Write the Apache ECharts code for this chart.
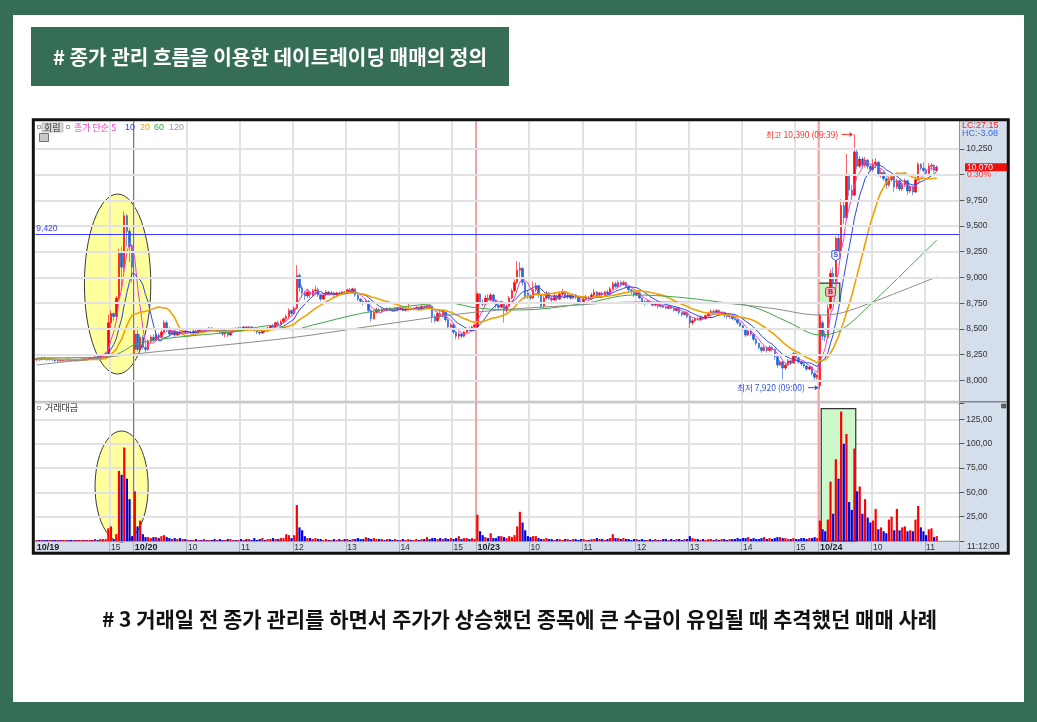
<!DOCTYPE html>
<html><head><meta charset="utf-8">
<script src="https://cdn.jsdelivr.net/npm/echarts@6.0.0/dist/echarts.min.js"></script>
<style>html,body{margin:0;padding:0;overflow:hidden;background:#366e55}#c{width:1037px;height:722px}</style>
</head><body><div id="c"></div>
<script>
// ---------- DATA (3-minute candles: [open, close, low, high]) ----------
const candles = [
// 10/19 13:36 - 15:30
[8200,8210,8190,8220],[8210,8200,8190,8220],[8200,8220,8200,8230],[8220,8210,8200,8230],[8210,8200,8190,8210],
[8200,8210,8190,8220],[8210,8200,8190,8210],[8200,8190,8180,8210],[8190,8200,8180,8210],[8200,8190,8180,8200],
[8190,8200,8180,8210],[8200,8210,8190,8210],[8210,8200,8190,8210],[8200,8190,8190,8210],[8190,8200,8190,8210],
[8200,8190,8180,8210],[8190,8200,8190,8210],[8200,8210,8200,8220],[8210,8200,8200,8220],[8200,8210,8200,8220],
[8210,8220,8210,8230],[8220,8210,8200,8230],[8210,8230,8210,8240],[8230,8220,8210,8240],[8220,8240,8220,8250],
[8240,8250,8230,8260],[8250,8260,8240,8280],[8260,8560,8250,8640],[8560,8650,8500,8680],[8650,8620,8580,8660],
[8620,8800,8600,8820],[8800,9250,8780,9280],[9250,9100,8880,9300],[9100,9600,9050,9640],[9600,9450,9300,9620],
[9450,9300,9150,9480],[9300,9100,8950,9320],
// 10/20
[8300,8450,8250,8500],[8450,8300,8280,8520],[8300,8420,8280,8450],[8420,8320,8300,8440],[8320,8300,8270,8350],
[8300,8380,8290,8400],[8380,8420,8360,8440],[8420,8390,8370,8450],[8390,8440,8380,8460],[8440,8420,8400,8460],
[8420,8470,8410,8490],[8470,8560,8460,8590],[8560,8500,8480,8580],[8500,8450,8430,8520],[8450,8480,8440,8500],
[8480,8440,8420,8490],[8440,8470,8430,8480],[8470,8450,8440,8490],[8450,8480,8440,8490],[8480,8460,8450,8490],
[8460,8470,8450,8480],[8470,8460,8450,8480],[8460,8480,8450,8490],[8480,8470,8460,8500],[8470,8490,8460,8500],
[8490,8480,8470,8500],[8480,8500,8470,8510],[8500,8490,8480,8510],[8490,8510,8480,8520],[8510,8490,8480,8520],
[8490,8480,8470,8500],[8480,8500,8470,8510],[8500,8470,8450,8500],[8470,8450,8430,8480],[8450,8470,8420,8480],
[8470,8440,8420,8480],[8440,8480,8430,8490],[8480,8500,8470,8510],[8500,8490,8480,8520],[8490,8510,8480,8520],
[8510,8500,8490,8520],[8500,8520,8490,8530],[8520,8510,8500,8530],[8510,8520,8500,8530],[8520,8500,8490,8530],
[8500,8490,8470,8510],[8490,8470,8450,8500],[8470,8460,8440,8480],[8460,8490,8450,8500],[8490,8480,8460,8500],
[8480,8510,8470,8520],[8510,8530,8500,8540],[8530,8520,8510,8550],[8520,8560,8510,8570],[8560,8540,8530,8580],
[8540,8570,8530,8590],[8570,8600,8550,8610],[8600,8620,8570,8640],[8620,8680,8600,8700],[8680,8650,8630,8690],
[8650,8700,8640,8720],[8700,9020,8690,9120],[9020,8900,8860,9040],[8900,8850,8800,8930],[8850,8820,8780,8870],
[8820,8860,8800,8880],[8860,8830,8800,8870],[8830,8870,8810,8890],[8870,8880,8840,8920],[8880,8830,8810,8900],
[8830,8790,8770,8840],[8790,8830,8780,8850],[8830,8860,8820,8880],[8860,8840,8830,8870],[8840,8850,8830,8870],
[8850,8830,8810,8860],[8830,8850,8820,8860],[8850,8840,8830,8860],[8840,8860,8830,8870],[8860,8850,8840,8870],
[8850,8880,8840,8890],[8880,8860,8850,8900],[8860,8890,8850,8900],[8890,8830,8810,8890],[8830,8790,8770,8840],
[8790,8770,8750,8800],[8770,8750,8730,8780],[8750,8770,8740,8790],[8770,8680,8660,8780],[8680,8600,8570,8690],
[8600,8660,8590,8680],[8660,8690,8650,8710],[8690,8670,8660,8700],[8670,8690,8660,8700],[8690,8680,8670,8700],
[8680,8700,8670,8710],[8700,8690,8680,8710],[8690,8680,8670,8700],[8680,8700,8670,8710],[8700,8690,8670,8710],
[8690,8700,8680,8710],[8700,8680,8670,8710],[8680,8690,8670,8700],[8690,8700,8680,8760],[8700,8690,8680,8710],
[8690,8700,8680,8710],[8700,8710,8690,8720],[8710,8700,8690,8720],[8700,8720,8690,8730],[8720,8710,8700,8730],
[8710,8730,8700,8740],[8730,8720,8700,8740],[8720,8620,8560,8730],[8620,8580,8560,8640],[8580,8650,8570,8670],
[8650,8620,8600,8680],[8620,8660,8610,8680],[8660,8590,8570,8670],[8590,8520,8500,8600],[8520,8540,8500,8560],
[8540,8470,8450,8550],[8470,8430,8400,8480],[8430,8450,8400,8470],[8450,8430,8410,8460],[8430,8470,8420,8480],
[8470,8500,8460,8510],[8500,8490,8480,8520],[8490,8520,8480,8530],[8520,8540,8510,8550],
// 10/23
[8520,8840,8510,8860],[8840,8760,8730,8850],[8760,8740,8720,8790],[8740,8800,8730,8830],[8800,8780,8760,8840],
[8780,8830,8770,8850],[8830,8770,8750,8840],[8770,8730,8700,8780],[8730,8710,8680,8750],[8710,8740,8700,8760],
[8740,8680,8560,8750],[8680,8720,8660,8740],[8720,8800,8710,8820],[8800,8870,8790,8890],[8870,8950,8860,8980],
[8950,9070,8940,9160],[9070,9090,8990,9150],[9090,8950,8920,9100],[8950,8800,8790,8960],[8850,8820,8790,8880],
[8820,8800,8780,8840],[8800,8880,8790,8960],[8880,8920,8860,8950],[8920,8830,8800,8930],[8830,8720,8700,8840],
[8720,8800,8700,8820],[8800,8850,8790,8870],[8850,8800,8780,8860],[8800,8780,8760,8820],[8780,8820,8770,8840],
[8820,8790,8770,8830],[8790,8840,8780,8860],[8840,8860,8820,8890],[8860,8810,8790,8870],[8810,8830,8790,8850],
[8830,8800,8780,8840],[8800,8830,8790,8850],[8830,8810,8790,8840],[8810,8760,8740,8820],[8760,8740,8730,8780],
[8740,8790,8730,8800],[8790,8810,8780,8830],[8810,8790,8780,8820],[8790,8830,8780,8850],[8830,8860,8820,8890],
[8860,8830,8810,8870],[8830,8850,8820,8860],[8850,8830,8810,8860],[8830,8860,8820,8870],[8860,8840,8830,8880],
[8840,8890,8830,8910],[8890,8940,8880,8960],[8940,8910,8900,8960],[8910,8950,8900,8970],[8950,8930,8910,8970],
[8930,8950,8920,8970],[8950,8910,8900,8960],[8910,8880,8860,8920],[8880,8860,8840,8890],[8860,8830,8810,8870],
[8830,8850,8820,8860],[8850,8800,8790,8860],[8800,8760,8740,8810],[8760,8750,8730,8780],[8750,8770,8740,8780],
[8770,8750,8740,8780],[8750,8730,8720,8760],[8730,8740,8720,8750],[8740,8720,8700,8750],[8720,8730,8710,8740],
[8730,8710,8700,8740],[8710,8700,8690,8720],[8700,8720,8690,8730],[8720,8700,8690,8730],[8700,8680,8670,8710],
[8680,8700,8670,8710],[8700,8660,8640,8710],[8660,8640,8620,8670],[8640,8660,8630,8670],[8660,8620,8600,8670],
[8620,8560,8490,8630],[8560,8580,8540,8600],[8580,8600,8570,8610],[8600,8590,8580,8620],[8590,8610,8580,8630],
[8610,8600,8590,8620],[8600,8630,8590,8640],[8630,8650,8620,8670],[8650,8670,8640,8690],[8670,8660,8640,8690],
[8660,8680,8650,8690],[8680,8650,8640,8690],[8650,8660,8640,8670],[8660,8630,8610,8670],[8630,8620,8600,8640],
[8620,8630,8600,8640],[8630,8600,8590,8640],[8600,8590,8580,8610],[8590,8560,8540,8600],[8560,8530,8520,8570],
[8530,8500,8480,8540],[8500,8440,8420,8510],[8440,8480,8430,8500],[8480,8450,8430,8490],[8450,8400,8380,8460],
[8400,8360,8340,8410],[8360,8320,8300,8370],[8320,8290,8270,8330],[8290,8320,8280,8340],[8320,8290,8270,8330],
[8290,8320,8280,8340],[8320,8300,8280,8330],[8300,8230,8200,8310],[8230,8150,8120,8240],[8150,8180,8140,8200],
[8180,8120,8010,8190],[8120,8150,8100,8170],[8150,8190,8140,8210],[8190,8170,8150,8200],[8170,8260,8160,8280],
[8260,8220,8200,8270],[8220,8180,8160,8230],[8180,8160,8140,8190],[8160,8140,8120,8170],[8140,8110,8090,8150],
[8110,8130,8100,8140],[8130,8070,8050,8140],[8070,8030,7990,8080],[8030,8050,8010,8060],
// 10/24 09:00 - 11:12
[7950,8630,7920,8650],[8560,8430,8390,8580],[8450,8420,8380,8480],[8420,8700,8400,8740],[8700,9040,8680,9080],
[9040,8960,8900,9100],[8960,9380,8950,9400],[9380,9250,9200,9420],[9250,9700,9240,9760],[9700,9580,9520,9740],
[9580,9990,9560,10200],[9990,9850,9790,10010],[9850,9800,9760,9900],[9800,10220,9790,10390],[10220,10080,10050,10240],
[10080,10150,10060,10180],[10150,10090,10060,10170],[10090,10140,10070,10170],[10140,10080,10050,10150],[10080,10050,10030,10100],
[10050,10100,10030,10150],[10100,10120,10060,10160],[10120,10000,9980,10130],[10000,10020,9970,10050],[10020,9960,9940,10030],
[9960,9900,9860,9980],[9900,9950,9880,9970],[9950,9980,9930,10000],[9980,9880,9830,9990],[9880,9940,9860,9960],
[9940,9860,9840,9950],[9860,9900,9840,9930],[9900,9940,9880,9960],[9940,9840,9800,9950],[9840,9880,9820,9900],
[9880,9830,9800,9890],[9830,9950,9820,9980],[9950,10100,9940,10120],[10100,10060,10040,10110],[10060,10040,10020,10120],
[10040,10010,9990,10060],[10010,10080,10000,10110],[10080,10090,10040,10110],[10090,10040,10020,10100],[10040,10070,10030,10090]
];

// 거래대금 (trading value) per candle
const volumes = [
1,1,1,1,1,1,1,1,1,1, 1,1,1,1,1,1,1,1,1,1, 1,1,2,1,2,2,2,13,15,2,
7,72,68,96,64,43,5,51,15,21, 7,4,4,3,4,4,3,5,6,4, 3,2,3,2,3,2,2,1,1,1,
2,1,1,2,1,1,1,2,1,2, 1,1,2,2,1,1,1,2,1,2, 2,1,3,1,2,3,1,2,2,3,
2,2,3,3,7,6,3,6,37,14, 11,5,3,3,2,3,2,2,1,2, 1,1,2,1,2,1,2,2,1,2,
2,3,2,2,4,3,2,3,2,2, 2,1,2,2,1,2,1,1,2,1, 2,1,1,2,1,2,2,4,2,3,
3,2,3,2,3,2,3,2,3,5, 2,3,3,2,3,2,27,10,6,4, 3,8,3,3,5,5,4,3,5,4,
6,15,30,19,11,5,4,5,5,3, 2,2,3,2,2,1,2,2,1,2, 2,1,2,2,1,2,2,1,1,2,
2,3,2,2,1,2,3,7,3,3, 2,3,2,2,1,2,2,1,2,1, 1,2,1,2,1,1,2,2,1,2,
1,2,2,1,2,2,5,3,2,2, 1,2,1,2,2,1,2,1,2,2, 1,2,2,2,3,2,3,3,4,2,
3,2,2,3,4,2,3,2,3,4, 4,3,3,2,2,3,2,2,3,3, 2,3,3,4,3,21,12,10,22,61,
28,84,64,133,100,110,40,32,95,51, 56,28,43,24,19,21,33,12,14,10,
8,22,25,11,33,11,14,15,10,11, 10,22,36,14,10,6,12,13,4,5
];

// MA60 / MA120: [candle index, value]
const ma60Pts = [[0,8218],[23,8222],[27,8226],[33,8290],[37,8350],[48,8405],[73,8470],[90,8535],[96,8492],[104,8538],[123,8655],[144,8733],[155,8752],[166,8703],[182,8684],[205,8742],[225,8830],[241,8810],[257,8762],[270,8713],[283,8567],[295,8441],[303,8490],[315,8762],[327,9060],[339,9364]];
const ma120Pts = [[0,8150],[39,8262],[95,8412],[129,8538],[166,8665],[204,8733],[226,8762],[257,8752],[276,8703],[295,8635],[303,8655],[315,8762],[339,9005]];

// x-axis time labels (candle index -> text)
const tickIdx  = [0,28,37,57,77,97,117,137,157,166,186,206,226,246,266,286,295,315,335];
const tickText = ['10/19','15','10/20','10','11','12','13','14','15','10/23','10','11','12','13','14','15','10/24','10','11'];
const dayStartIdx = [37,166,295];
const priceTicks  = [8000,8250,8500,8750,9000,9250,9500,9750,10000,10250];
const priceLabels = [8000,8250,8500,8750,9000,9250,9500,9750,10250];
const refPrice = 9420, lastPrice = 10070, highIdx = 308, highPrice = 10390, lowIdx = 295, lowPrice = 7920;
const slotCount = 348;

// ---------- CHART ----------
const cats = Array.from({length: slotCount}, (_, i) => String(i));
const closes = candles.map(c => c[1]);
function sma(n) {
  return closes.map((_, i) => { const s = Math.max(0, i - n + 1); let t = 0; for (let k = s; k <= i; k++) t += closes[k]; return Math.round(t / (i - s + 1)); });
}
const fmt = v => String(v).replace(/\B(?=(\d{3})+(?!\d))/g, ',');
const labelMap = {}; tickIdx.forEach((k, j) => { labelMap[k] = tickText[j]; });
const isGrid = i => labelMap[i] !== undefined && i !== 0;
const UP = '#ff0000', DN = '#1f5fd8', VDN = '#0000e8';
const NUMF = '"Liberation Sans", Arial, sans-serif';
const KRF = '"Noto Sans CJK KR", "Noto Sans", sans-serif';
const GRIDC = '#e2e2e2';

const option = {
  animation: false,
  backgroundColor: '#366e55',
  grid: [
    {left: 35.3, top: 121, width: 924, height: 280},
    {left: 35.3, top: 403, width: 924, height: 138}
  ],
  xAxis: [
    {type: 'category', gridIndex: 0, data: cats, boundaryGap: true,
     axisLine: {show: false}, axisTick: {show: false}, axisLabel: {show: false},
     splitLine: {show: true, interval: isGrid, lineStyle: {color: GRIDC, width: 2}}},
    {type: 'category', gridIndex: 1, data: cats, boundaryGap: true,
     axisLine: {show: true, lineStyle: {color: '#9aa3ad'}},
     axisTick: {show: true, interval: isGrid, length: 11, lineStyle: {color: '#a9b1ba'}},
     axisLabel: {show: true, interval: i => labelMap[i] !== undefined, align: 'left', margin: 2,
       formatter: v => { const t = labelMap[+v]; if (t === undefined) return ''; return t.indexOf('/') >= 0 ? '{d|' + t + '}' : '{h|' + t + '}'; },
       rich: {d: {fontWeight: 'bold', fontSize: 9, color: '#222', fontFamily: NUMF}, h: {fontSize: 8.5, color: '#333', fontFamily: NUMF}}},
     splitLine: {show: true, interval: isGrid, lineStyle: {color: GRIDC, width: 2}}}
  ],
  yAxis: [
    {type: 'value', gridIndex: 0, position: 'right', min: 7800, max: 10520,
     splitLine: {show: false},
     axisLine: {show: true, lineStyle: {color: '#8593a3'}},
     axisTick: {show: true, customValues: priceTicks, length: 5, lineStyle: {color: '#555'}},
     axisLabel: {customValues: priceLabels, formatter: v => fmt(v), fontSize: 8.5, color: '#333', margin: 7, fontFamily: NUMF}},
    {type: 'value', gridIndex: 1, position: 'right', min: 0, max: 141.8, interval: 25,
     splitLine: {show: true, lineStyle: {color: GRIDC, width: 2}},
     axisLine: {show: true, lineStyle: {color: '#8593a3'}},
     axisTick: {show: true, length: 5, lineStyle: {color: '#555'}},
     axisLabel: {formatter: v => (v > 0 && v % 25 === 0) ? v + ',00' : '', fontSize: 8.5, color: '#333', margin: 7, fontFamily: NUMF}}
  ],
  series: [
    {name: 'gridlines', type: 'line', xAxisIndex: 0, yAxisIndex: 0, data: [], z: 1, silent: true,
     markLine: {silent: true, symbol: ['none', 'none'], animation: false,
       data: priceTicks.map(v => ({yAxis: v, lineStyle: {color: GRIDC, width: 2, type: 'solid'}, label: {show: false}}))
         .concat([{yAxis: refPrice, lineStyle: {color: '#3a3aff', width: 1, type: 'solid'},
           label: {show: true, position: 'insideStartTop', formatter: fmt(refPrice), color: '#3a3aff', fontSize: 8.5, fontFamily: NUMF, distance: 1}}])}},
    {name: 'price', type: 'candlestick', xAxisIndex: 0, yAxisIndex: 0, data: candles, barWidth: 2, z: 2,
     itemStyle: {color: UP, color0: DN, borderColor: UP, borderColor0: DN, borderWidth: 0.6}},
    {name: 'MA5', type: 'line', xAxisIndex: 0, yAxisIndex: 0, data: sma(5), symbol: 'none', z: 3, lineStyle: {color: '#f040c8', width: 1}},
    {name: 'MA10', type: 'line', xAxisIndex: 0, yAxisIndex: 0, data: sma(10), symbol: 'none', z: 3, lineStyle: {color: '#2c48e0', width: 1}},
    {name: 'MA20', type: 'line', xAxisIndex: 0, yAxisIndex: 0, data: sma(20), symbol: 'none', z: 3, lineStyle: {color: '#f2a200', width: 1.6}},
    {name: 'MA60', type: 'line', xAxisIndex: 0, yAxisIndex: 0, data: ma60Pts, symbol: 'none', smooth: 0.35, z: 3, lineStyle: {color: '#3fa64a', width: 1}},
    {name: 'MA120', type: 'line', xAxisIndex: 0, yAxisIndex: 0, data: ma120Pts, symbol: 'none', smooth: 0.35, z: 3, lineStyle: {color: '#8c8c8c', width: 1}},
    {name: 'value', type: 'bar', xAxisIndex: 1, yAxisIndex: 1, barWidth: 2.2, z: 2,
     data: volumes.map((v, i) => ({value: v, itemStyle: {color: candles[i][1] >= candles[i][0] ? UP : VDN}}))}
  ]
};

const chart = echarts.init(document.getElementById('c'), null, {renderer: 'canvas', width: 1037, height: 722});
chart.setOption(option);

const P = (g, i, v) => chart.convertToPixel({gridIndex: g}, [i, v]);
const bw = P(0, 1, 8000)[0] - P(0, 0, 8000)[0];
const G = [];
const txt = (x, y, text, o) => G.push(Object.assign({type: 'text', x, y, z: 10, silent: true,
  style: Object.assign({text, fill: '#333', fontSize: 9, fontFamily: KRF, align: 'left', verticalAlign: 'middle'}, (o && o.style) || {})}, o && o.z !== undefined ? {z: o.z} : {}));

// page frame, title
G.push({type: 'rect', z: -10, silent: true, shape: {x: 13, y: 15, width: 1011, height: 687}, style: {fill: '#ffffff'}});
G.push({type: 'rect', z: -9, silent: true, shape: {x: 31, y: 27, width: 478, height: 59}, style: {fill: '#366e55'}});
txt(270, 57, '# 종가 관리 흐름을 이용한 데이트레이딩 매매의 정의', {style: {fill: '#ffffff', fontSize: 20.2, fontWeight: 'bold', align: 'center'}});
txt(519.5, 619, '# 3 거래일 전 종가 관리를 하면서 주가가 상승했던 종목에 큰 수급이 유입될 때 추격했던 매매 사례', {style: {fill: '#111111', fontSize: 21, fontWeight: 'bold', align: 'center'}});

// chart panels
G.push({type: 'rect', z: -9, silent: true, shape: {x: 33, y: 120, width: 975, height: 433}, style: {fill: '#ffffff'}});
G.push({type: 'rect', z: -8, silent: true, shape: {x: 959.5, y: 121, width: 47.5, height: 431}, style: {fill: '#d5dfec'}});
G.push({type: 'rect', z: -8, silent: true, shape: {x: 35, y: 541, width: 925, height: 11}, style: {fill: '#d5dfec'}});
G.push({type: 'line', z: 5, silent: true, shape: {x1: 35, y1: 401.8, x2: 959.5, y2: 401.8}, style: {stroke: '#c4c4c4', lineWidth: 2}});
G.push({type: 'line', z: 5, silent: true, shape: {x1: 959.5, y1: 401.8, x2: 1007, y2: 401.8}, style: {stroke: '#7b8796', lineWidth: 1.5}});
G.push({type: 'rect', z: 20, silent: true, shape: {x: 33.3, y: 119.7, width: 975, height: 433.6}, style: {fill: 'none', stroke: '#111111', lineWidth: 3}});

// highlight ellipses
const e1a = P(0, 18, 9810), e1b = P(0, 43, 8062);
G.push({type: 'ellipse', z: -5, silent: true, shape: {cx: (e1a[0] + e1b[0]) / 2, cy: (e1a[1] + e1b[1]) / 2, rx: (e1b[0] - e1a[0]) / 2, ry: (e1b[1] - e1a[1]) / 2}, style: {fill: '#ffff9e', stroke: '#3a3a3a', lineWidth: 1}});
const e2a = P(1, 22, 113), e2b = P(1, 42, -1);
G.push({type: 'ellipse', z: -5, silent: true, shape: {cx: (e2a[0] + e2b[0]) / 2, cy: (e2a[1] + e2b[1]) / 2, rx: (e2b[0] - e2a[0]) / 2, ry: (e2b[1] - e2a[1]) / 2}, style: {fill: '#ffff9e', stroke: '#3a3a3a', lineWidth: 1}});

// green boxes
const b1a = P(0, 295, 8946), b1b = P(0, 302, 8752);
G.push({type: 'rect', z: 1, silent: true, shape: {x: b1a[0] - bw / 2, y: b1a[1], width: b1b[0] - b1a[0] + bw, height: b1b[1] - b1a[1]}, style: {fill: '#c6f5c0', stroke: '#333333', lineWidth: 1.2}});
const b2a = P(1, 296, 136), b2b = P(1, 308, 0);
G.push({type: 'rect', z: 1, silent: true, shape: {x: b2a[0] - bw / 2, y: b2a[1], width: b2b[0] - b2a[0] + bw, height: b2b[1] - b2a[1]}, style: {fill: '#ccf8cc', stroke: '#333333', lineWidth: 1.2}});

// day separators
const dayCol = ['#e04848', '#f06a6a', '#f3a0a0'], dayW = [1, 1, 2];
dayStartIdx.forEach((k, j) => {
  const x = P(0, k, 8000)[0] - bw / 2;
  G.push({type: 'line', z: 1, silent: true, shape: {x1: x, y1: P(0, k, 10520)[1], x2: x, y2: P(1, k, 0)[1]}, style: {stroke: dayCol[j], lineWidth: dayW[j]}});
});

// legends
G.push({type: 'rect', z: 10, silent: true, shape: {x: 37.5, y: 125.5, width: 3, height: 3}, style: {fill: '#fff', stroke: '#888', lineWidth: 0.8}});
G.push({type: 'rect', z: 10, silent: true, shape: {x: 42, y: 123, width: 21, height: 9}, style: {fill: '#d9d9d9', stroke: '#a0a0a0', lineWidth: 0.6}});
txt(44, 127.5, '회림', {style: {fill: '#333', fontSize: 9}});
G.push({type: 'rect', z: 10, silent: true, shape: {x: 66.5, y: 125.5, width: 3, height: 3}, style: {fill: '#fff', stroke: '#888', lineWidth: 0.8}});
txt(74, 127.5, '종가 단순 5', {style: {fill: '#f040c8', fontSize: 9}});
txt(125, 127.5, '10', {style: {fill: '#2c48e0', fontSize: 9, fontFamily: NUMF}});
txt(140, 127.5, '20', {style: {fill: '#f2a200', fontSize: 9, fontFamily: NUMF}});
txt(154, 127.5, '60', {style: {fill: '#3fa64a', fontSize: 9, fontFamily: NUMF}});
txt(169, 127.5, '120', {style: {fill: '#999999', fontSize: 9, fontFamily: NUMF}});
G.push({type: 'rect', z: 10, silent: true, shape: {x: 39.5, y: 133.5, width: 9, height: 8}, style: {fill: '#c8c8c8', stroke: '#555', lineWidth: 0.8}});
G.push({type: 'rect', z: 10, silent: true, shape: {x: 37.5, y: 406.5, width: 3, height: 3}, style: {fill: '#fff', stroke: '#888', lineWidth: 0.8}});
txt(45, 408, '거래대금', {style: {fill: '#333', fontSize: 9}});

// right panel texts
txt(962, 125.5, 'LC:27.15', {style: {fill: '#ff2a2a', fontSize: 9, fontFamily: NUMF}});
txt(962, 133.5, 'HC:-3.08', {style: {fill: '#3a6ae0', fontSize: 9, fontFamily: NUMF}});
const lp = P(0, 0, lastPrice)[1];
G.push({type: 'rect', z: 10, silent: true, shape: {x: 965, y: lp - 4, width: 42, height: 8}, style: {fill: '#ee1111'}});
txt(967, lp, fmt(lastPrice), {style: {fill: '#ffffff', fontSize: 8.5, fontFamily: NUMF}});
txt(967, P(0, 0, 10000)[1], '0.30%', {style: {fill: '#ff2a2a', fontSize: 8.5, fontFamily: NUMF}});
txt(967, 547, '11:12:00', {style: {fill: '#333', fontSize: 8.5, fontFamily: NUMF}});
G.push({type: 'rect', z: 10, silent: true, shape: {x: 1001.5, y: 404, width: 4.5, height: 4}, style: {fill: '#666', stroke: '#333', lineWidth: 0.5}});

// high / low annotations
const hp = P(0, highIdx, highPrice);
txt(hp[0] - 16, hp[1], '최고 ' + fmt(highPrice) + ' (09:39)', {style: {fill: '#ff2a2a', fontSize: 8.5, align: 'right'}});
G.push({type: 'line', z: 10, silent: true, shape: {x1: hp[0] - 13, y1: hp[1], x2: hp[0] - 5, y2: hp[1]}, style: {stroke: '#ff2a2a', lineWidth: 1}});
G.push({type: 'polygon', z: 10, silent: true, shape: {points: [[hp[0] - 5, hp[1] - 2.5], [hp[0] - 5, hp[1] + 2.5], [hp[0] - 1.5, hp[1]]]}, style: {fill: '#ff2a2a'}});
const lw = P(0, lowIdx, lowPrice);
txt(lw[0] - 15, lw[1] - 1, '최저 ' + fmt(lowPrice) + ' (09:00)', {style: {fill: '#3050e0', fontSize: 8.5, align: 'right'}});
G.push({type: 'line', z: 10, silent: true, shape: {x1: lw[0] - 12, y1: lw[1] - 1, x2: lw[0] - 5, y2: lw[1] - 1}, style: {stroke: '#3050e0', lineWidth: 1}});
G.push({type: 'polygon', z: 10, silent: true, shape: {points: [[lw[0] - 5, lw[1] - 3.5], [lw[0] - 5, lw[1] + 1.5], [lw[0] - 1.5, lw[1] - 1]]}, style: {fill: '#3050e0'}});

// S / B markers
const sp = P(0, 301, 9210);
G.push({type: 'polygon', z: 11, silent: true, shape: {points: [[sp[0] - 4, sp[1] - 5], [sp[0] + 4, sp[1] - 5], [sp[0] + 4, sp[1] + 2], [sp[0], sp[1] + 5], [sp[0] - 4, sp[1] + 2]]}, style: {fill: '#ffffff', stroke: '#3050d0', lineWidth: 1}});
txt(sp[0], sp[1] - 0.5, 'S', {z: 12, style: {fill: '#3050d0', fontSize: 7, fontWeight: 'bold', fontFamily: NUMF, align: 'center'}});
const bp = P(0, 299, 8860);
G.push({type: 'rect', z: 11, silent: true, shape: {x: bp[0] - 5, y: bp[1] - 4.5, width: 10, height: 9, r: 2}, style: {fill: '#f4b4bc', stroke: '#c03050', lineWidth: 1}});
txt(bp[0], bp[1], 'B', {z: 12, style: {fill: '#b01838', fontSize: 7, fontWeight: 'bold', fontFamily: NUMF, align: 'center'}});

chart.setOption({graphic: G});
</script></body></html>
